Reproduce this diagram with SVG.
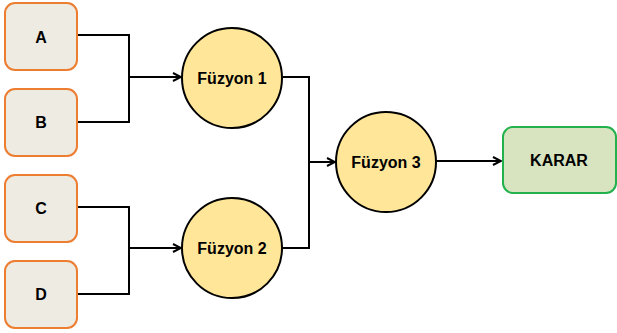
<svg xmlns="http://www.w3.org/2000/svg" width="617" height="333" viewBox="0 0 617 333">
<style>
.box{fill:#EDEBE2;stroke:#ED7D31;stroke-width:2}
.fus{fill:#FFE699;stroke:#000;stroke-width:2}
.dec{fill:#D8E4BF;stroke:#22B14C;stroke-width:2}
.lbl{font-family:"Liberation Sans",Arial,sans-serif;font-weight:bold;font-size:16px;fill:#000;text-anchor:middle}
.con{fill:none;stroke:#000;stroke-width:2}
</style>
<defs>
<marker id="arr" viewBox="0 0 10 10" refX="9" refY="5" markerWidth="10" markerHeight="10" markerUnits="userSpaceOnUse" orient="auto">
<path d="M1,1 L9,5 L1,9" fill="none" stroke="#000" stroke-width="2"/>
</marker>
</defs>
<rect width="617" height="333" fill="#fff"/>
<g id="connectors">
<polyline class="con" points="77,35 129,35 129,122 77,122"/>
<line class="con" x1="129" y1="77" x2="181" y2="77" marker-end="url(#arr)"/>
<polyline class="con" points="77,207 129,207 129,294 77,294"/>
<line class="con" x1="129" y1="248" x2="181" y2="248" marker-end="url(#arr)"/>
<polyline class="con" points="283,77 309,77 309,248 283,248"/>
<line class="con" x1="309" y1="162" x2="335" y2="162" marker-end="url(#arr)"/>
<line class="con" x1="436" y1="161" x2="501" y2="161" marker-end="url(#arr)"/>
</g>
<g id="A"><rect class="box" x="5" y="3" width="72" height="67" rx="10"/><text class="lbl" x="41" y="43">A</text></g>
<g id="B"><rect class="box" x="5" y="89" width="72" height="67" rx="10"/><text class="lbl" x="41" y="128">B</text></g>
<g id="C"><rect class="box" x="5" y="175" width="72" height="67" rx="10"/><text class="lbl" x="41" y="214">C</text></g>
<g id="D"><rect class="box" x="5" y="261" width="72" height="67" rx="10"/><text class="lbl" x="41" y="300">D</text></g>
<g id="fuzyon1"><circle class="fus" cx="232" cy="78" r="50"/><text class="lbl" x="232" y="84">Füzyon 1</text></g>
<g id="fuzyon2"><circle class="fus" cx="232" cy="248" r="50"/><text class="lbl" x="232" y="254">Füzyon 2</text></g>
<g id="fuzyon3"><circle class="fus" cx="386" cy="162" r="50"/><text class="lbl" x="386" y="168">Füzyon 3</text></g>
<g id="karar"><rect class="dec" x="503" y="127" width="113" height="66" rx="10"/><text class="lbl" x="559" y="166">KARAR</text></g>
</svg>
